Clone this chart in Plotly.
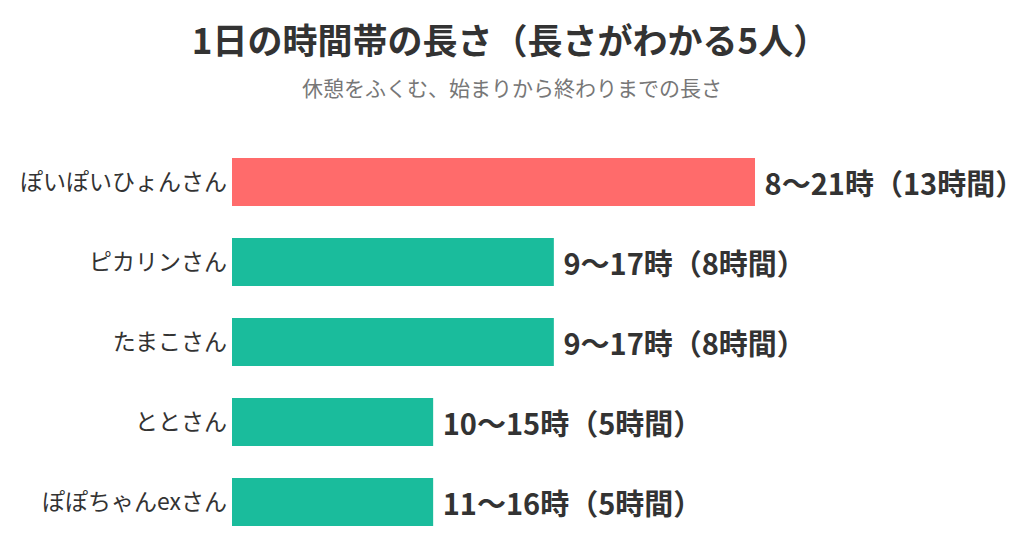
import plotly.graph_objects as go

# ======================
# DATA
# ======================
names = ["ぽいぽいひょんさん", "ピカリンさん", "たまこさん", "ととさん", "ぽぽちゃんexさん"]
start_hour = [8, 9, 9, 10, 11]
end_hour = [21, 17, 17, 15, 16]
hours = [13, 8, 8, 5, 5]
colors = ["#FF6B6B", "#1ABC9C", "#1ABC9C", "#1ABC9C", "#1ABC9C"]

labels = [f" {s}〜{e}時（{h}時間）" for s, e, h in zip(start_hour, end_hour, hours)]

FONT = "Noto Sans CJK JP"

# page body keeps an 8px margin, so the figure is laid out 8px up/left
fig = go.Figure()

fig.add_trace(go.Bar(
    x=hours,
    y=names,
    orientation="h",
    marker=dict(color=colors, line=dict(width=0)),
    text=labels,
    textposition="outside",
    cliponaxis=False,
    textfont=dict(family=FONT, size=29, color="#333333", weight="bold"),
    hoverinfo="skip",
))

fig.update_layout(
    width=1024,
    height=560,
    paper_bgcolor="white",
    plot_bgcolor="white",
    showlegend=False,
    bargap=0.4,
    margin=dict(l=224, r=0, t=134, b=26),
    title=dict(
        text="1日の時間帯の長さ（長さがわかる5人）",
        x=502 / 1024, xref="container", xanchor="center",
        y=1 - 34 / 560, yref="container", yanchor="middle",
        font=dict(family=FONT, size=35, color="#333333", weight="bold"),
    ),
    annotations=[dict(
        text="休憩をふくむ、始まりから終わりまでの長さ",
        xref="paper", yref="paper", x=0.35, y=1,
        yshift=55, yanchor="middle", showarrow=False, xanchor="center",
        font=dict(family=FONT, size=21, color="#777777"),
    )],
    xaxis=dict(range=[0, 19.885], visible=False, fixedrange=True),
    yaxis=dict(
        autorange="reversed",
        showgrid=False, zeroline=False, showline=False,
        ticks="", ticklabelstandoff=4,
        tickfont=dict(family=FONT, size=23, color="#333333"),
    ),
)

fig.write_html("out.html")
